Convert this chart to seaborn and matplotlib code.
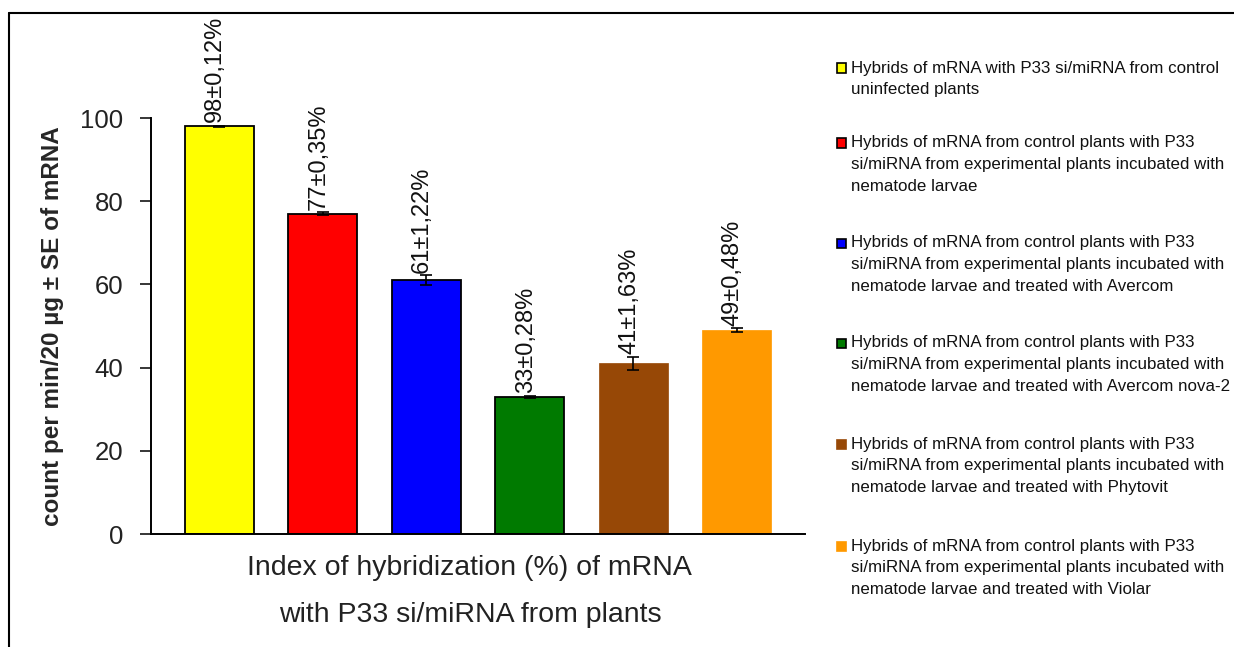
import matplotlib
matplotlib.use("Agg")
import matplotlib.pyplot as plt
from matplotlib.lines import Line2D
from matplotlib.patches import Rectangle
import seaborn as sns

# values
categories = ["control", "larvae", "Avercom", "Avercom nova-2", "Phytovit", "Violar"]
values = [98, 77, 61, 33, 41, 49]
errors = [0.12, 0.35, 1.22, 0.28, 1.63, 0.48]
bar_labels = ["98±0,12%", "77±0,35%", "61±1,22%", "33±0,28%", "41±1,63%", "49±0,48%"]
colors = ["#FFFF00", "#FF0000", "#0000FF", "#007A00", "#974806", "#FF9900"]
legend_labels = [
    "Hybrids of mRNA with P33 si/miRNA from control\nuninfected plants",
    "Hybrids of mRNA from control plants with P33\nsi/miRNA from experimental plants incubated with\nnematode larvae",
    "Hybrids of mRNA from control plants with P33\nsi/miRNA from experimental plants incubated with\nnematode larvae and treated with Avercom",
    "Hybrids of mRNA from control plants with P33\nsi/miRNA from experimental plants incubated with\nnematode larvae and treated with Avercom nova-2",
    "Hybrids of mRNA from control plants with P33\nsi/miRNA from experimental plants incubated with\nnematode larvae and treated with Phytovit",
    "Hybrids of mRNA from control plants with P33\nsi/miRNA from experimental plants incubated with\nnematode larvae and treated with Violar",
]
yticks = [0, 20, 40, 60, 80, 100]

sns.set_style("white")
plt.rcParams["font.family"] = ["Liberation Sans", "DejaVu Sans"]

W, H = 1234, 647
fig = plt.figure(figsize=(W / 100, H / 100), dpi=100)
ax = fig.add_axes([151 / W, 1 - 534 / H, (805 - 151) / W, (534 - 118) / H])

sns.barplot(x=categories, y=values, hue=categories, palette=colors, legend=False,
            width=0.67, saturation=1, ax=ax)
for i, p in enumerate(ax.patches):
    if i < 4:
        p.set_edgecolor("black")
        p.set_linewidth(1.3)
    else:
        p.set_edgecolor(colors[i])
        p.set_linewidth(0.5)

ax.errorbar(x=list(range(len(values))), y=values, yerr=errors, fmt="none",
            ecolor="black", elinewidth=1.2, capsize=4, capthick=1.2)

for i, (v, e, lab) in enumerate(zip(values, errors, bar_labels)):
    ax.text(i - 0.04, v + max(e, 0.4) + 0.6, lab, rotation=90, ha="center", va="bottom",
            fontsize=17, color="#111111", clip_on=False)

ax.set_xlim(-0.66, 5.66)
ax.set_ylim(0, 100)
ax.set_yticks(yticks)
ax.set_xticks([])
ax.tick_params(axis="y", direction="out", length=8, width=1.3, labelsize=18.5,
               labelcolor="#222222", left=True, pad=12)
for side in ["top", "right"]:
    ax.spines[side].set_visible(False)
for side in ["left", "bottom"]:
    ax.spines[side].set_color("black")
    ax.spines[side].set_linewidth(1.4)

ax.set_ylabel("count per min/20 µg ± SE of mRNA", fontsize=17.5, fontweight="bold")
ax.yaxis.set_label_coords(-(151 - 53) / (805 - 151), 0.5)
ax.yaxis.label.set_va("center")

fig.text(469 / W, 1 - 568 / H, "Index of hybridization (%) of mRNA", ha="center",
         va="center", fontsize=20.5, color="#222222")
fig.text(470 / W, 1 - 615 / H, "with P33 si/miRNA from plants", ha="center",
         va="center", fontsize=20.5, color="#222222")

# legend drawn on the right, square marker aligned to first line
line_h = 21.6
entry_top = [68, 143, 243, 343, 444, 546]
for col, lab, y in zip(colors, legend_labels, entry_top):
    fig.add_artist(Rectangle((837 / W, 1 - (y + 4.5) / H), 9 / W, 9 / H,
                             transform=fig.transFigure, facecolor=col,
                             edgecolor="black" if col not in ("#974806", "#FF9900") else col,
                             linewidth=1.2))
    for k, ln in enumerate(lab.split("\n")):
        fig.text(851 / W, 1 - (y + k * line_h) / H, ln, ha="left", va="center",
                 fontsize=12.2, color="#111111")

# outer frame (left and top edges only)
fig.add_artist(Line2D([9 / W, 9 / W], [0, 1 - 13 / H], transform=fig.transFigure,
                      color="black", lw=1.5))
fig.add_artist(Line2D([9 / W, 1], [1 - 13 / H, 1 - 13 / H], transform=fig.transFigure,
                      color="black", lw=1.5))

fig.savefig("out.png", dpi=100)
